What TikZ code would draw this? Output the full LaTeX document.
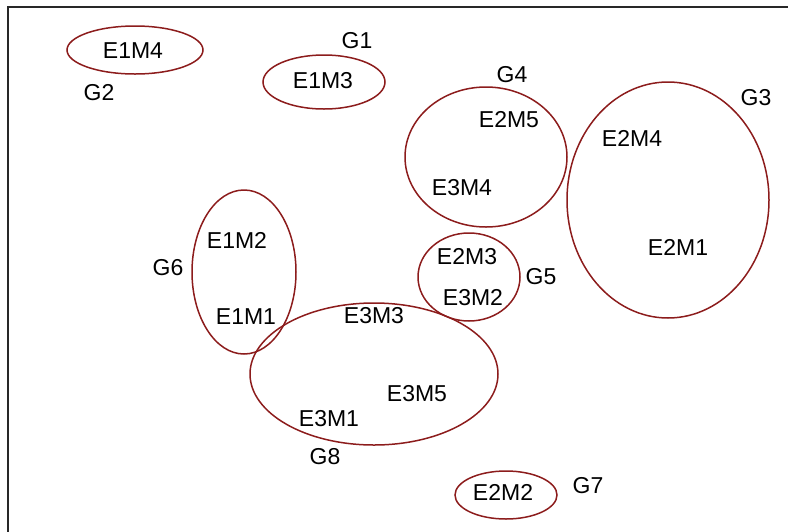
\documentclass[tikz,border=0pt]{standalone}
\usepackage{fontspec}
\setmainfont{Liberation Sans}
\usetikzlibrary{shapes.geometric}
\definecolor{ringred}{RGB}{140,28,28}
\definecolor{framegray}{RGB}{40,40,40}
\tikzset{
  ring/.style={draw=ringred, line width=1.5pt, ellipse, inner sep=0pt},
  lbl/.style={font=\fontsize{23}{25}\selectfont, text=black, inner sep=0pt}
}
\begin{document}
\begin{tikzpicture}[x=1pt,y=-1pt]
  \useasboundingbox (0,0) rectangle (788,531);
  % plot frame (right and lower edges fall outside the page)
  \begin{scope}
    \clip (0,0) rectangle (788,531);
    \draw[framegray, line width=2pt] (8,545) -- (8,7) -- (800,7);
  \end{scope}

  % group outlines
  \node[ring, minimum width=136pt, minimum height=48pt] (g2) at (135,50) {};
  \node[ring, minimum width=122pt, minimum height=54pt] (g1) at (324,82) {};
  \node[ring, minimum width=162pt, minimum height=140pt] (g4) at (486,157) {};
  \node[ring, minimum width=202pt, minimum height=236pt] (g3) at (668,200) {};
  \node[ring, minimum width=104pt, minimum height=164pt] (g6) at (244,272) {};
  \node[ring, minimum width=102pt, minimum height=88pt] (g5) at (469,277) {};
  \node[ring, minimum width=248pt, minimum height=142pt] (g8) at (374,374) {};
  \node[ring, minimum width=102pt, minimum height=48pt] (g7) at (506,495) {};

  % group labels
  \node[lbl] (tg1) at (357,41) {G1};
  \node[lbl] (tg2) at (99,93) {G2};
  \node[lbl] (tg3) at (756,98) {G3};
  \node[lbl] (tg4) at (512,75) {G4};
  \node[lbl] (tg5) at (541,277) {G5};
  \node[lbl] (tg6) at (168,268) {G6};
  \node[lbl] (tg7) at (588,486) {G7};
  \node[lbl] (tg8) at (325,457) {G8};

  % member labels
  \node[lbl] (e1m4) at (133,51) {E1M4};
  \node[lbl] (e1m3) at (323,81) {E1M3};
  \node[lbl] (e2m5) at (509,120) {E2M5};
  \node[lbl] (e3m4) at (462,188) {E3M4};
  \node[lbl] (e2m4) at (632,138) {E2M4};
  \node[lbl] (e2m1) at (678,247) {E2M1};
  \node[lbl] (e1m2) at (237,240) {E1M2};
  \node[lbl] (e1m1) at (246,317) {E1M1};
  \node[lbl] (e2m3) at (467,257) {E2M3};
  \node[lbl] (e3m2) at (473,298) {E3M2};
  \node[lbl] (e3m3) at (374,316) {E3M3};
  \node[lbl] (e3m5) at (417,394) {E3M5};
  \node[lbl] (e3m1) at (329,419) {E3M1};
  \node[lbl] (e2m2) at (503,492) {E2M2};
\end{tikzpicture}
\end{document}
